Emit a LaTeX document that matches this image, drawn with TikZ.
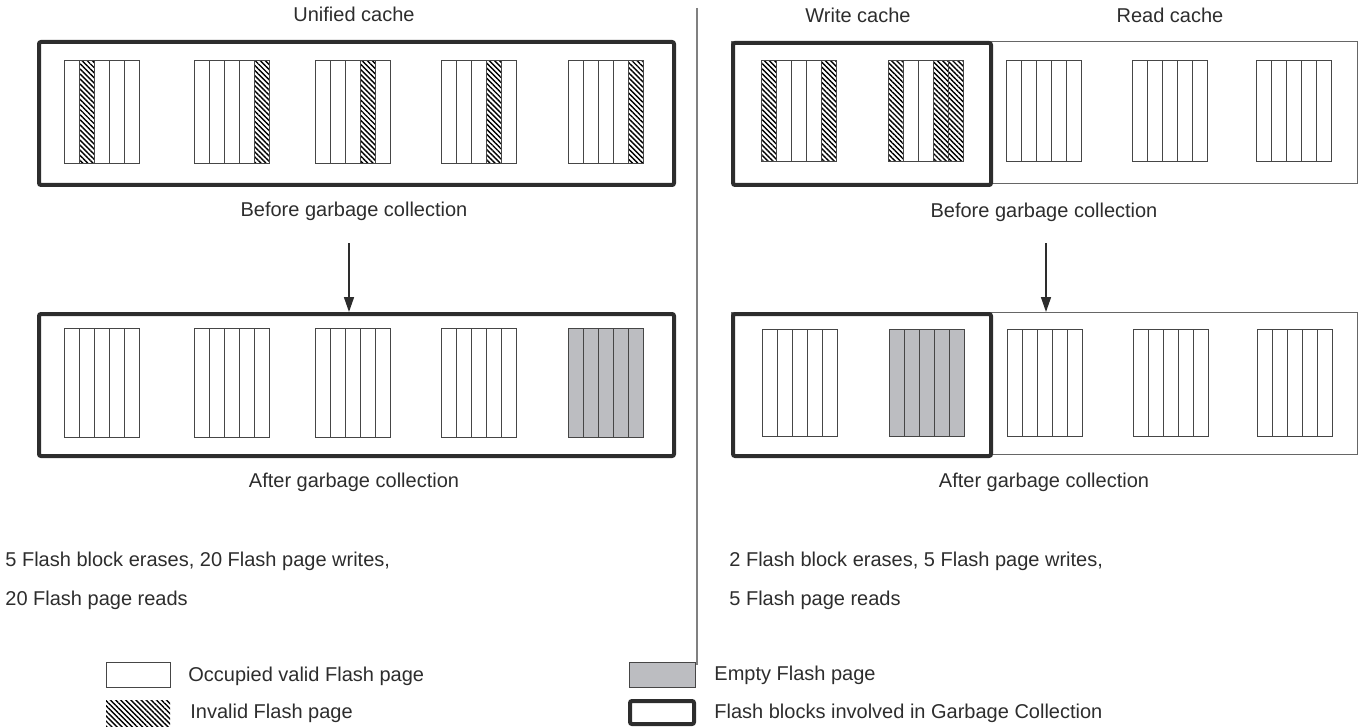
\documentclass[tikz,border=0pt]{standalone}
\usepackage{fontspec}
\setmainfont{Liberation Sans}
\usetikzlibrary{arrows.meta,patterns.meta}
\definecolor{inkgray}{RGB}{45,45,45}
\definecolor{emptygray}{RGB}{188,189,193}
\definecolor{pageline}{RGB}{70,70,70}

% one Flash block = five pages side by side
\newcommand{\flashblock}[4]{%
  \foreach \pg [count=\i from 0] in {#4}
    \draw[\pg] ({#1+15*\i},#2) rectangle ++(15,#3);
}

\begin{document}
\begin{tikzpicture}[x=0.5pt, y=-0.5pt,
vp/.style={draw=pageline, line width=0.5pt, fill=white},
ip/.style={draw=pageline, line width=0.5pt, pattern={Lines[angle=-45,distance=1.8pt,line width=0.7pt]}, pattern color=black},
ep/.style={draw=pageline, line width=0.5pt, fill=emptygray},
gcframe/.style={draw=inkgray, line width=2pt, rounded corners=1pt, inner sep=0pt, anchor=north west},
cacheframe/.style={draw=gray!80!black, line width=0.6pt, inner sep=0pt, anchor=north west},
lbl/.style={text=inkgray, font=\fontsize{10}{12}\selectfont, inner sep=0pt},
gcarrow/.style={draw=inkgray, line width=0.8pt, -{Triangle[length=7.5pt,width=5pt]}}]
\useasboundingbox (0,0) rectangle (1369,727);

% unified cache
\node[lbl] (unifiedLbl) at (354,14) {Unified cache};
\node[gcframe, minimum width=317.5pt, minimum height=71.5pt] (uniBefore) at (37,40) {};
\flashblock{64}{61}{103}{vp,ip,vp,vp,vp}
\flashblock{194}{61}{103}{vp,vp,vp,vp,ip}
\flashblock{315}{61}{103}{vp,vp,vp,ip,vp}
\flashblock{441}{61}{103}{vp,vp,vp,ip,vp}
\flashblock{568}{61}{103}{vp,vp,vp,vp,ip}
\node[lbl] (befL) at (354,211) {Before garbage collection};
\node[gcframe, minimum width=317.5pt, minimum height=71pt] (uniAfter) at (37,312) {};
\flashblock{64}{328}{109}{vp,vp,vp,vp,vp}
\flashblock{194}{328}{109}{vp,vp,vp,vp,vp}
\flashblock{315}{328}{109}{vp,vp,vp,vp,vp}
\flashblock{441}{328}{109}{vp,vp,vp,vp,vp}
\flashblock{568}{328}{109}{ep,ep,ep,ep,ep}
\node[lbl] (aftL) at (354,482) {After garbage collection};
\coordinate (gcL) at (349,243);
\draw[gcarrow] (gcL) -- (gcL |- uniAfter.north);
\node[lbl, anchor=west] (statL1) at (5,561) {5 Flash block erases, 20 Flash page writes,};
\node[lbl, anchor=west] (statL2) at (5,600) {20 Flash page reads};

\draw[gray, line width=0.6pt] (697,8) -- (697,665);

% split write / read cache
\node[lbl] (writeLbl) at (858,15) {Write cache};
\node[lbl] (readLbl) at (1170,15) {Read cache};
\node[cacheframe, minimum width=313pt, minimum height=71pt] (splitBefore) at (731,41) {};
\node[gcframe, minimum width=129pt, minimum height=71pt] (writeBefore) at (731,41) {};
\flashblock{761}{61}{101}{ip,vp,vp,vp,ip}
\flashblock{888}{61}{101}{ip,vp,vp,ip,ip}
\flashblock{1006}{61}{101}{vp,vp,vp,vp,vp}
\flashblock{1132}{61}{101}{vp,vp,vp,vp,vp}
\flashblock{1256}{61}{101}{vp,vp,vp,vp,vp}
\node[lbl] (befR) at (1044,212) {Before garbage collection};
\node[cacheframe, minimum width=313pt, minimum height=71pt] (splitAfter) at (731,312) {};
\node[gcframe, minimum width=129pt, minimum height=71pt] (writeAfter) at (731,312) {};
\flashblock{762}{329}{107}{vp,vp,vp,vp,vp}
\flashblock{889}{329}{107}{ep,ep,ep,ep,ep}
\flashblock{1007}{329}{107}{vp,vp,vp,vp,vp}
\flashblock{1133}{329}{107}{vp,vp,vp,vp,vp}
\flashblock{1257}{329}{107}{vp,vp,vp,vp,vp}
\node[lbl] (aftR) at (1044,482) {After garbage collection};
\coordinate (gcR) at (1046,243);
\draw[gcarrow] (gcR) -- (gcR |- splitAfter.north);
\node[lbl, anchor=west] (statR1) at (729,561) {2 Flash block erases, 5 Flash page writes,};
\node[lbl, anchor=west] (statR2) at (729,600) {5 Flash page reads};

% legend
\draw[vp] (106,662) rectangle (170,687);
\node[lbl, anchor=west] (lgValid) at (188,676) {Occupied valid Flash page};
\fill[pattern={Lines[angle=-45,distance=1.8pt,line width=0.7pt]}, pattern color=black] (106,700) rectangle (170,726);
\node[lbl, anchor=west] (lgInvalid) at (190,713) {Invalid Flash page};
\draw[ep] (629,662) rectangle (695,687);
\node[lbl, anchor=west] (lgEmpty) at (714,675) {Empty Flash page};
\draw[gcframe] (630,701) rectangle (694,724);
\node[lbl, anchor=west] (lgGc) at (714,713) {Flash blocks involved in Garbage Collection};
\end{tikzpicture}
\end{document}
